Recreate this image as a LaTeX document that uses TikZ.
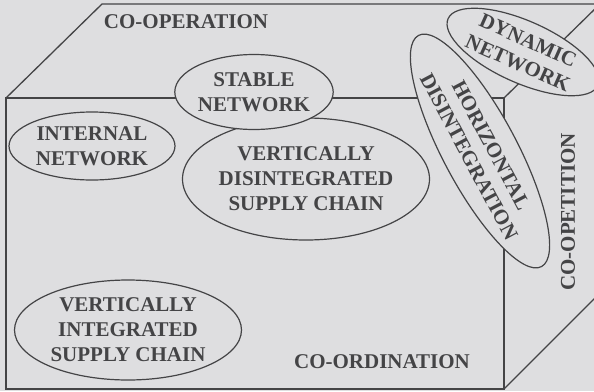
\documentclass[tikz,border=0pt]{standalone}
\usepackage{fontspec}
\setmainfont{Liberation Serif}
\usetikzlibrary{shapes.geometric}
\definecolor{paper}{RGB}{222,222,224}
\definecolor{ink}{RGB}{68,68,70}
\tikzset{
  edge/.style={draw=ink, line width=1.3pt},
  bubble/.style={ellipse, draw=ink, line width=1.2pt, fill=paper, inner sep=0pt,
    text=ink, align=center, font=\bfseries\fontsize{21}{25}\selectfont},
  caption/.style={text=ink, inner sep=0pt, font=\bfseries\fontsize{21}{25}\selectfont}
}
\begin{document}
\begin{tikzpicture}[x=1pt, y=-1pt]
  \fill[paper] (0,0) rectangle (594,391);
  \useasboundingbox (0,0) rectangle (594,391);
  \clip (0,0) rectangle (594,391);

  % corners of the cube
  \coordinate (ftl) at (6,98);
  \coordinate (ftr) at (504,98);
  \coordinate (fbl) at (6,389);
  \coordinate (fbr) at (504,389);
  \coordinate (btl) at (102,4);
  \coordinate (btr) at (600,4);
  \coordinate (bbr) at (600,293);

  % edges
  \draw[edge] (ftl) -- (ftr) -- (fbr) -- (fbl) -- cycle;
  \draw[edge] (ftl) -- (btl) -- (btr);
  \draw[edge] (ftr) -- (btr);
  \draw[edge] (fbr) -- (bbr);

  % labels of the faces
  \node[caption] (coop) at (186,22) {CO-OPERATION};
  \node[caption] (coord) at (382,362) {CO-ORDINATION};
  \node[caption, rotate=90] (coopet) at (568,212) {CO-OPETITION};

  % network forms
  \node[bubble, minimum width=166pt, minimum height=68pt] (internal) at (92,146) {INTERNAL\\NETWORK};
  \node[bubble, minimum width=232pt, minimum height=122pt] (vdis) at (306,179) {VERTICALLY\\DISINTEGRATED\\SUPPLY CHAIN};
  \node[bubble, minimum width=143pt, minimum height=75pt] (stable) at (254,92) {STABLE\\NETWORK};
  \node[bubble, minimum width=227pt, minimum height=100pt] (vint) at (128,330) {VERTICALLY\\INTEGRATED\\SUPPLY CHAIN};
  \node[bubble, rotate=-62, minimum width=238pt, minimum height=74pt] (hdis) at (480,151) {HORIZONTAL\\DISINTEGRATION};
  \node[bubble, rotate=-24, minimum width=164pt, minimum height=62pt] (dyn) at (523,52) {DYNAMIC\\NETWORK};
\end{tikzpicture}
\end{document}
